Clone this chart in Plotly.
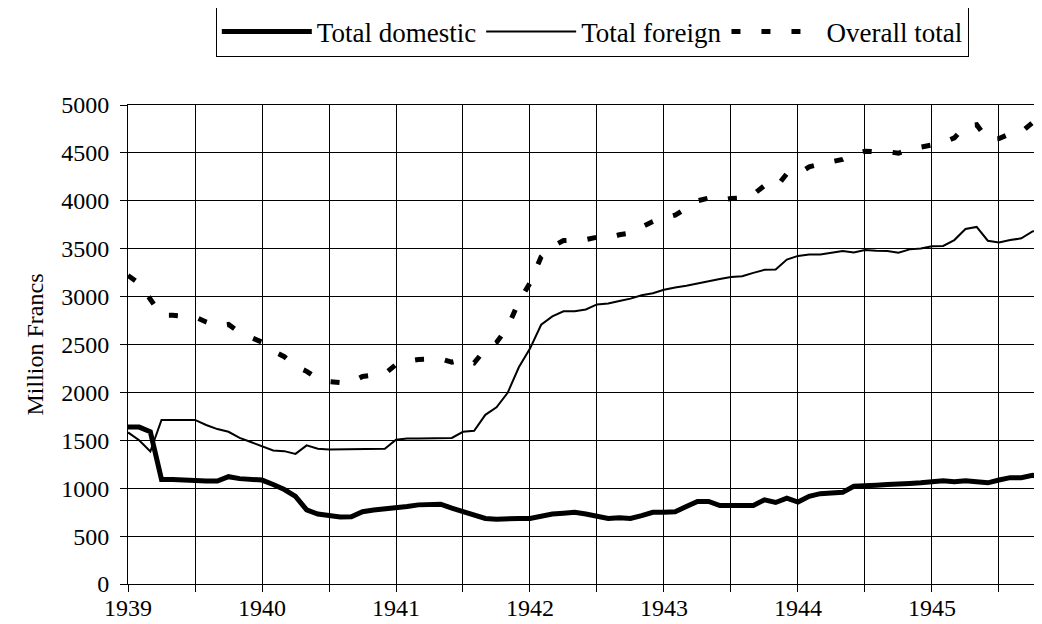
import plotly.graph_objects as go

# Monthly data, January 1939 onwards (million francs)
domestic = [1638, 1638, 1589, 1092, 1092, 1085, 1075, 1075, 1075, 1120, 1100, 1092,
            1085, 1039, 986, 915, 773, 730, 709, 700, 702, 755, 773, 784,
            784, 808, 826, 833, 833, 791, 755, 709, 684, 677, 684, 684,
            684, 709, 730, 738, 748, 730, 702, 684, 691, 684, 713, 748,
            748, 755, 808, 862, 862, 819, 819, 819, 819, 879, 851, 897,
            855, 915, 943, 950, 957, 1021, 1032, 1032, 1039, 1039, 1050, 1057,
            1062, 1077, 1067, 1077, 1067, 1056, 1085, 1110, 1110, 1135, 1110]
foreign = [1582, 1500, 1383, 1713, 1713, 1713, 1713, 1660, 1617, 1589, 1525, 1482,
           1440, 1394, 1387, 1358, 1447, 1411, 1404, 1404, 1404, 1411, 1411, 1411,
           1507, 1518, 1518, 1518, 1518, 1525, 1589, 1599, 1766, 1844, 1996, 2262,
           2457, 2706, 2794, 2847, 2847, 2865, 2918, 2929, 2954, 2979, 3014, 3035,
           3071, 3096, 3113, 3138, 3167, 3184, 3205, 3212, 3248, 3280, 3283, 3386,
           3425, 3440, 3440, 3461, 3475, 3461, 3486, 3479, 3475, 3457, 3493, 3503,
           3525, 3529, 3590, 3706, 3727, 3583, 3565, 3590, 3608, 3681, 3692]
overall = [3220, 3138, 2972, 2805, 2805, 2798, 2788, 2735, 2692, 2709, 2625, 2574,
           2525, 2433, 2373, 2273, 2220, 2141, 2113, 2104, 2106, 2166, 2184, 2195,
           2291, 2326, 2344, 2351, 2351, 2316, 2344, 2308, 2450, 2521, 2680, 2946,
           3141, 3415, 3524, 3585, 3595, 3595, 3620, 3613, 3645, 3663, 3727, 3783,
           3819, 3851, 3921, 4000, 4029, 4003, 4024, 4031, 4067, 4159, 4134, 4283,
           4280, 4355, 4383, 4411, 4432, 4482, 4518, 4511, 4514, 4496, 4543, 4560,
           4587, 4606, 4657, 4783, 4794, 4639, 4650, 4700, 4718, 4816, 4802]

start_year = 1939
x_vals = [start_year + i / 12 for i in range(len(domestic))]

tick_vals = [1939, 1939.5, 1940, 1940.5, 1941, 1941.5, 1942, 1942.5,
             1943, 1943.5, 1944, 1944.5, 1945, 1945.5]
tick_text = ["1939", "", "1940", "", "1941", "", "1942", "",
             "1943", "", "1944", "", "1945", ""]

FONT = "Liberation Serif"
FS = 24

fig = go.Figure()
fig.add_trace(go.Scatter(x=x_vals, y=domestic, mode="lines", name="Total domestic",
                         line=dict(color="black", width=5)))
fig.add_trace(go.Scatter(x=x_vals, y=foreign, mode="lines", name="Total foreign",
                         line=dict(color="black", width=2)))
fig.add_trace(go.Scatter(x=x_vals, y=overall, mode="lines", name="Overall total",
                         line=dict(color="black", width=5, dash="9px,21px")))

# The page body adds an 8px offset; the figure is sized so the plot area lands
# where the reference has it.
fig.update_layout(
    width=1034, height=616,
    margin=dict(l=120, r=0, t=97, b=40, autoexpand=False),
    paper_bgcolor="white", plot_bgcolor="white",
    font=dict(family=FONT, size=FS, color="black"),
    showlegend=True,
    legend=dict(orientation="h", x=0.508, xanchor="center", y=1.206, yanchor="top",
                bordercolor="black", borderwidth=1, bgcolor="white",
                font=dict(family=FONT, size=27, color="black"),
                itemwidth=90, traceorder="normal", tracegroupgap=0),
    xaxis=dict(range=[1939, 1945.821], tickmode="array", tickvals=tick_vals,
               ticktext=tick_text, showgrid=True, gridcolor="black", gridwidth=1,
               showline=True, linecolor="black", linewidth=1, mirror=True,
               ticks="outside", ticklen=7, tickcolor="black", zeroline=False,
               ticklabelstandoff=-5,
               tickfont=dict(family=FONT, size=FS, color="black")),
    yaxis=dict(range=[0, 5000], dtick=500, tick0=0, showgrid=True, gridcolor="black",
               gridwidth=1, showline=True, linecolor="black", linewidth=1,
               ticks="outside", ticklen=7, tickcolor="black", zeroline=False,
               ticklabelstandoff=6,
               title=dict(text="Million Francs", font=dict(family=FONT, size=FS, color="black"),
                          standoff=10),
               tickfont=dict(family=FONT, size=FS, color="black")),
)

fig.write_html("out.html")
